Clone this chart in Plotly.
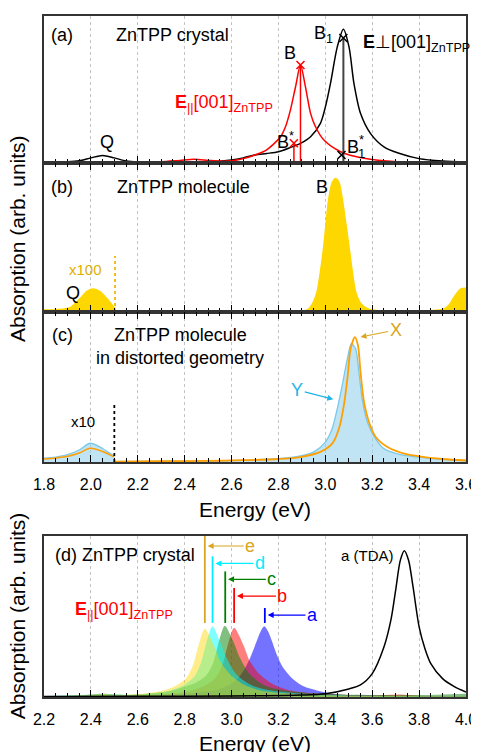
import plotly.graph_objects as go

FONT = "Liberation Sans, Arial, sans-serif"

# ---------------- Panel (a): ZnTPP crystal ----------------
a_perp_E = [1.80, 1.90, 1.95, 2.00, 2.05, 2.10, 2.15, 2.20, 2.30, 2.40, 2.50, 2.55, 2.60, 2.65,
            2.70, 2.75, 2.80, 2.85, 2.894, 2.937, 2.979, 3.00, 3.022, 3.051, 3.077, 3.101,
            3.122, 3.15, 3.193, 3.25, 3.314, 3.40, 3.50, 3.60]
a_perp = [0.004, 0.008, 0.015, 0.035, 0.052, 0.035, 0.014, 0.007, 0.005, 0.005, 0.008, 0.012,
          0.02, 0.035, 0.055, 0.065, 0.077, 0.105, 0.134, 0.179, 0.27, 0.38, 0.542, 0.79, 0.91,
          0.79, 0.542, 0.338, 0.2, 0.11, 0.066, 0.03, 0.013, 0.006]
a_par_E = [1.80, 2.00, 2.05, 2.10, 2.20, 2.30, 2.38, 2.44, 2.50, 2.55, 2.60, 2.65, 2.70, 2.75,
           2.809, 2.83, 2.851, 2.873, 2.894, 2.915, 2.937, 2.958, 2.994, 3.065, 3.165, 3.307,
           3.45, 3.60]
a_par = [0.002, 0.004, 0.006, 0.004, 0.004, 0.008, 0.018, 0.025, 0.018, 0.013, 0.015, 0.03,
         0.055, 0.09, 0.179, 0.247, 0.36, 0.519, 0.667, 0.519, 0.338, 0.247, 0.156, 0.077,
         0.032, 0.008, 0.004, 0.003]
a_par_marks_E = [2.866, 2.894]      # B*, B
a_par_marks_y = [0.134, 0.667]
a_perp_marks_E = [3.069, 3.077]     # B1*, B1
a_perp_marks_y = [0.054, 0.85]

# ---------------- Panel (b): ZnTPP molecule ----------------
b_q_E = [1.80, 1.85, 1.911, 1.954, 1.985, 2.011, 2.04, 2.068, 2.103]
b_q = [0.013, 0.016, 0.03, 0.09, 0.14, 0.154, 0.135, 0.09, 0.02]
b_E = [2.103, 2.20, 2.50, 2.80, 2.90, 2.93, 2.95, 2.965, 2.98, 2.994, 3.015, 3.03, 3.044,
       3.058, 3.072, 3.085, 3.10, 3.115, 3.129, 3.15, 3.18, 3.25, 3.40, 3.506, 3.53, 3.549,
       3.578, 3.60]
b_abs = [0.004, 0.002, 0.001, 0.002, 0.004, 0.022, 0.07, 0.136, 0.28, 0.45, 0.763, 0.87, 0.897,
         0.87, 0.763, 0.62, 0.45, 0.27, 0.136, 0.06, 0.022, 0.005, 0.004, 0.02, 0.05, 0.1,
         0.155, 0.16]
b_cut_E = 2.103

# ---------------- Panel (c): distorted geometry ----------------
c_q_E = [1.80, 1.85, 1.897, 1.95, 1.997, 2.05, 2.096, 2.10]
c_q_Y = [0.025, 0.033, 0.047, 0.08, 0.125, 0.09, 0.042, 0.04]
c_q_X = [0.02, 0.027, 0.036, 0.06, 0.091, 0.07, 0.036, 0.034]
c_Y_E = [2.10, 2.30, 2.50, 2.65, 2.80, 2.894, 2.951, 3.00, 3.029, 3.051, 3.072, 3.094, 3.111,
         3.129, 3.143, 3.157, 3.179, 3.214, 3.25, 3.321, 3.393, 3.50, 3.60]
c_Y = [0.003, 0.005, 0.008, 0.012, 0.022, 0.04, 0.067, 0.133, 0.222, 0.356, 0.511, 0.689, 0.789,
       0.756, 0.6, 0.422, 0.267, 0.156, 0.089, 0.049, 0.033, 0.018, 0.01]
c_X_E = [2.10, 2.30, 2.50, 2.65, 2.80, 2.894, 2.979, 3.029, 3.058, 3.079, 3.094, 3.108, 3.126,
         3.139, 3.15, 3.165, 3.186, 3.215, 3.265, 3.336, 3.40, 3.50, 3.60]
c_X = [0.003, 0.005, 0.008, 0.012, 0.02, 0.033, 0.067, 0.122, 0.222, 0.378, 0.556, 0.756, 0.833,
       0.778, 0.6, 0.4, 0.267, 0.167, 0.1, 0.056, 0.038, 0.02, 0.01]
c_cut_E = 2.10

# ---------------- Panel (d): ZnTPP crystal, E || [001] ----------------
d_a_E = [2.20, 2.40, 2.60, 2.80, 2.90, 2.95, 2.993, 3.021, 3.05, 3.079, 3.107, 3.125, 3.14,
         3.158, 3.193, 3.221, 3.264, 3.307, 3.364, 3.42, 3.50, 3.70, 4.00]
d_a = [0.004, 0.008, 0.01, 0.02, 0.035, 0.05, 0.077, 0.108, 0.16, 0.242, 0.346, 0.41, 0.439,
       0.40, 0.263, 0.18, 0.108, 0.066, 0.04, 0.022, 0.012, 0.006, 0.004]
d_b_E = [2.20, 2.45, 2.60, 2.77, 2.83, 2.889, 2.932, 2.961, 2.989, 3.011, 3.05, 3.079, 3.121,
         3.179, 3.25, 3.40, 3.60, 3.72, 3.80, 4.00]
d_b = [0.004, 0.01, 0.012, 0.025, 0.04, 0.073, 0.12, 0.2, 0.35, 0.43, 0.325, 0.22, 0.139, 0.077,
       0.04, 0.018, 0.01, 0.015, 0.008, 0.005]
d_c_E = [2.20, 2.35, 2.45, 2.55, 2.65, 2.735, 2.792, 2.849, 2.892, 2.921, 2.949, 2.971, 3.007,
         3.036, 3.079, 3.15, 3.25, 3.40, 3.60, 3.80, 4.00]
d_c = [0.005, 0.01, 0.02, 0.012, 0.022, 0.035, 0.06, 0.09, 0.135, 0.21, 0.36, 0.443, 0.346,
       0.242, 0.139, 0.066, 0.035, 0.018, 0.012, 0.012, 0.02]
d_d_E = [2.20, 2.45, 2.60, 2.683, 2.74, 2.797, 2.84, 2.869, 2.897, 2.919, 2.95, 2.979, 3.021,
         3.079, 3.15, 3.30, 3.50, 4.00]
d_d = [0.005, 0.015, 0.015, 0.026, 0.042, 0.075, 0.125, 0.21, 0.36, 0.439, 0.346, 0.242, 0.139,
       0.077, 0.045, 0.02, 0.01, 0.005]
d_e_E = [2.20, 2.30, 2.40, 2.45, 2.50, 2.60, 2.65, 2.707, 2.764, 2.807, 2.836, 2.864, 2.886,
         2.925, 2.954, 2.996, 3.054, 3.125, 3.30, 3.50, 4.00]
d_e = [0.005, 0.008, 0.012, 0.018, 0.013, 0.018, 0.025, 0.04, 0.072, 0.118, 0.2, 0.346, 0.424,
       0.32, 0.217, 0.137, 0.076, 0.04, 0.015, 0.008, 0.005]
d_tda_E = [2.20, 2.60, 3.00, 3.30, 3.40, 3.50, 3.55, 3.60, 3.65, 3.68, 3.70, 3.72, 3.737, 3.755,
           3.774, 3.80, 3.825, 3.85, 3.90, 3.95, 4.00]
d_tda = [0.003, 0.004, 0.006, 0.012, 0.02, 0.05, 0.075, 0.145, 0.31, 0.48, 0.664, 0.85, 0.909,
         0.85, 0.685, 0.436, 0.3, 0.207, 0.114, 0.065, 0.031]
d_labels = ["a", "b", "c", "d", "e"]
d_peak_E = [3.142, 3.011, 2.973, 2.919, 2.886]

fig = go.Figure()

def line(x, y, xa, ya, color, width=1.5, fill=None, fillcolor=None, dash=None, shape="spline"):
    fig.add_trace(go.Scatter(
        x=x, y=y, xaxis=xa, yaxis=ya, mode="lines",
        line=dict(color=color, width=width, shape=shape, smoothing=0.8, dash=dash),
        fill=fill, fillcolor=fillcolor, showlegend=False, hoverinfo="skip"))

# Panel (a)
line(a_perp_E, a_perp, "x", "y", "black", 1.5)
line(a_par_E, a_par, "x", "y", "red", 1.5)
for e, h in zip(a_par_marks_E, a_par_marks_y):
    line([e, e], [0, h], "x", "y", "red", 1.5, shape="linear")
line([a_perp_marks_E[1]] * 2, [0, a_perp_marks_y[1]], "x", "y", "#444444", 2, shape="linear")
fig.add_trace(go.Scatter(x=a_par_marks_E, y=a_par_marks_y, xaxis="x", yaxis="y", mode="markers",
                         marker=dict(symbol="x-thin", size=8, line=dict(color="red", width=1.5)),
                         showlegend=False, hoverinfo="skip"))
fig.add_trace(go.Scatter(x=a_perp_marks_E, y=a_perp_marks_y, xaxis="x", yaxis="y", mode="markers",
                         marker=dict(symbol="x-thin", size=8, line=dict(color="black", width=1.5)),
                         showlegend=False, hoverinfo="skip"))

# Panel (b)
GOLD = "#FFD700"
line(b_q_E, b_q, "x2", "y2", GOLD, 1.5, fill="tozeroy", fillcolor=GOLD)
line(b_E, b_abs, "x2", "y2", GOLD, 1.5, fill="tozeroy", fillcolor=GOLD)
line([b_cut_E, b_cut_E], [0, 0.376], "x2", "y2", "#F2B800", 1.8, dash="dot", shape="linear")

# Panel (c)
BLUE_L = "#7CC8EA"
ORANGE = "#FF9F00"
line(c_q_E, c_q_Y, "x3", "y3", BLUE_L, 1.3, fill="tozeroy", fillcolor="rgba(150,210,235,0.6)")
line(c_q_E, c_q_X, "x3", "y3", ORANGE, 1.5)
line(c_Y_E, c_Y, "x3", "y3", BLUE_L, 1.3, fill="tozeroy", fillcolor="rgba(150,210,235,0.6)")
line(c_X_E, c_X, "x3", "y3", ORANGE, 1.8)
line([c_cut_E, c_cut_E], [0, 0.38], "x3", "y3", "black", 1.8, dash="dot", shape="linear")

# Panel (d)
d_series = [(d_a_E, d_a, "rgba(0,0,255,0.55)"), (d_b_E, d_b, "rgba(255,0,0,0.5)"),
            (d_c_E, d_c, "rgba(0,128,0,0.5)"), (d_d_E, d_d, "rgba(0,255,255,0.5)"),
            (d_e_E, d_e, "rgba(255,215,0,0.45)")]
for ex, ey, fc in d_series:
    line(ex, ey, "x4", "y4", "rgba(0,0,0,0)", 0, fill="tozeroy", fillcolor=fc)
line(d_tda_E, d_tda, "x4", "y4", "black", 1.5)

d_colors = ["#0000FF", "#FF0000", "#008000", "#00EEFF", "#DAA520"]
d_line_top = [0.553, 0.677, 0.78, 0.874, 1.0]
d_text_pos = [(3.345, 0.509), (3.217, 0.627), (3.172, 0.731), (3.122, 0.83), (3.08, 0.938)]
for e, col, top in zip(d_peak_E, d_colors, d_line_top):
    line([e, e], [0.46, top], "x4", "y4", col, 1.8, shape="linear")

ann = []
def txt(x, y, s, xr, yr, size=18, color="black", **kw):
    d = dict(x=x, y=y, text=s, xref=xr, yref=yr, showarrow=False,
             font=dict(family=FONT, size=size, color=color))
    d.update(kw)
    ann.append(d)

# panel a text
txt(1.877, 0.871, "(a)", "x", "y")
txt(2.347, 0.871, "ZnTPP crystal", "x", "y")
txt(2.848, 0.746, "B", "x", "y")
txt(2.994, 0.871, "B<sub>1</sub>", "x", "y")
txt(3.388, 0.816, "<b>E</b>⊥[001]<sub>ZnTPP</sub>", "x", "y")
txt(2.567, 0.408, "<b>E</b><sub>||</sub>[001]<sub>ZnTPP</sub>", "x", "y", color="red")
txt(2.069, 0.143, "Q", "x", "y")
txt(2.83, 0.156, "B<sup>*</sup>", "x", "y")
txt(3.116, 0.109, "B", "x", "y")
txt(3.155, 0.16, "*", "x", "y", size=13)
txt(3.155, 0.068, "1", "x", "y", size=13)
# panel b text
txt(1.877, 0.841, "(b)", "x2", "y2")
txt(2.394, 0.841, "ZnTPP molecule", "x2", "y2")
txt(2.987, 0.841, "B", "x2", "y2")
txt(1.975, 0.287, "x100", "x2", "y2", size=15, color="#E3AE00")
txt(1.925, 0.125, "Q", "x2", "y2")
# panel c text
txt(1.877, 0.847, "(c)", "x3", "y3")
txt(2.381, 0.847, "ZnTPP molecule", "x3", "y3")
txt(2.381, 0.693, "in distorted geometry", "x3", "y3")
txt(1.967, 0.273, "x10", "x3", "y3", size=15)
ann.append(dict(x=3.15, y=0.833, ax=3.30, ay=0.88, xref="x3", yref="y3", axref="x3", ayref="y3",
                text="X", showarrow=True, arrowhead=2, arrowsize=1, arrowwidth=1.2,
                arrowcolor="#DAA520", font=dict(family=FONT, size=18, color="#DAA520")))
ann.append(dict(x=3.034, y=0.418, ax=2.88, ay=0.48, xref="x3", yref="y3", axref="x3", ayref="y3",
                text="Y", showarrow=True, arrowhead=2, arrowsize=1, arrowwidth=1.2,
                arrowcolor="#1EB4E6", font=dict(family=FONT, size=18, color="#1EB4E6")))
# panel d text
txt(2.547, 0.882, "(d) ZnTPP crystal", "x4", "y4")
txt(3.58, 0.882, "a (TDA)", "x4", "y4", size=15)
txt(2.543, 0.54, "<b>E</b><sub>||</sub>[001]<sub>ZnTPP</sub>", "x4", "y4", color="red")
for lab, e, col, (tx, ty) in zip(d_labels, d_peak_E, d_colors, d_text_pos):
    ann.append(dict(x=e + 0.012, y=ty, ax=tx, ay=ty, xref="x4", yref="y4", axref="x4", ayref="y4",
                    text=lab, showarrow=True, arrowhead=2, arrowsize=1, arrowwidth=1.2,
                    arrowcolor=col, font=dict(family=FONT, size=18, color=col)))
# axis titles
ann.append(dict(x=-0.064, y=0.674, xref="paper", yref="paper", text="Absorption (arb. units)",
                textangle=-90, showarrow=False, xanchor="center", yanchor="middle",
                font=dict(family=FONT, size=21, color="black")))
ann.append(dict(x=-0.064, y=0.12, xref="paper", yref="paper", text="Absorption (arb. units)",
                textangle=-90, showarrow=False, xanchor="center", yanchor="middle",
                font=dict(family=FONT, size=21, color="black")))
ann.append(dict(x=0.5, y=0.2746, xref="paper", yref="paper", text="Energy (eV)",
                showarrow=False, yanchor="middle", font=dict(family=FONT, size=21, color="black")))
ann.append(dict(x=0.5, y=-0.068, xref="paper", yref="paper", text="Energy (eV)",
                showarrow=False, yanchor="middle", font=dict(family=FONT, size=21, color="black")))

def xax(rng, mirror, labels, anchor):
    return dict(range=rng, dtick=0.2, tick0=rng[0], ticks="inside", ticklen=7, tickwidth=1,
                tickcolor="black", showline=True, linecolor="#333333", linewidth=1.5,
                mirror=mirror, showgrid=True, gridcolor="#c4c4c4", griddash="dot", gridwidth=1,
                zeroline=False, showticklabels=labels, tickformat=".1f", anchor=anchor,
                tickfont=dict(family=FONT, size=16, color="black"), ticklabelstandoff=7,
                automargin=False,
                minor=dict(dtick=0.05, ticks="inside", ticklen=4, tickcolor="black",
                           showgrid=False), domain=[0, 1])

def yax(dom, anchor, tick=True):
    return dict(range=[0, 1], domain=dom, showticklabels=False, showgrid=False, zeroline=False,
                showline=True, linecolor="#333333", linewidth=1.5, mirror=True,
                ticks="inside" if tick else "", tickvals=[0], ticklen=12, tickcolor="black",
                anchor=anchor, automargin=False)

# the page body adds an 8px offset, so margins are reduced by 8px on left/top
fig.update_layout(
    width=479, height=752, margin=dict(l=36, r=21, t=8, b=63, autoexpand=False),
    paper_bgcolor="white", plot_bgcolor="white", showlegend=False,
    font=dict(family=FONT, color="black"),
    xaxis=xax([1.8, 3.6], True, False, "y"),
    xaxis2=xax([1.8, 3.6], "ticks", False, "y2"),
    xaxis3=xax([1.8, 3.6], "ticks", True, "y3"),
    xaxis4=xax([2.2, 4.0], True, True, "y4"),
    yaxis=yax([0.7841, 1.0], "x"),
    yaxis2=yax([0.5653, 0.7841], "x2"),
    yaxis3=yax([0.3451, 0.5653], "x3"),
    yaxis4=yax([0.0, 0.2364], "x4", tick=False),
    annotations=ann,
)

fig.write_html("out.html")
